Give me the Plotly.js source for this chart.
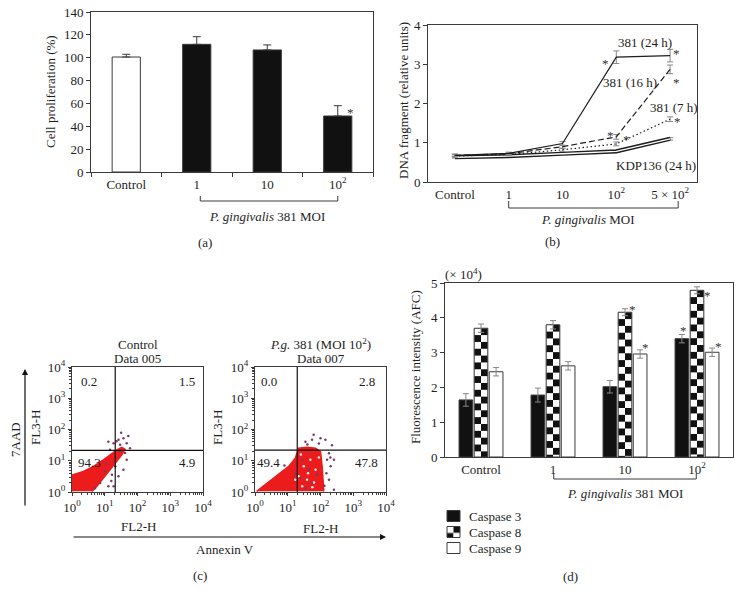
<!DOCTYPE html>
<html>
<head>
<meta charset="utf-8">
<script src="https://cdn.plot.ly/plotly-3.0.1.min.js"></script>
<style>
  html, body { margin: 0; padding: 0; background: #fff; }
  #plot { width: 741px; height: 602px; }
</style>
</head>
<body>
<div id="plot"></div>
<script>
// (a) cell proliferation vs MOI
var moiA = ['Control', '1', '10', '10<sup>2</sup>'];
var prolif = [100.6, 111.7, 106.8, 49];
var prolifErr = [2.4, 6.7, 4.4, 9];

// (b) DNA fragmentation, relative units
var moiB = ['Control', '1', '10', '10<sup>2</sup>', '5 × 10<sup>2</sup>'];
var dna24 = [0.68, 0.73, 0.98, 3.18, 3.22];
var dna24Err = [0.03, 0.03, 0.05, 0.16, 0.16];
var dna16 = [0.68, 0.72, 0.9, 1.15, 2.87];
var dna16Err = [0.03, 0.03, 0.04, 0.06, 0.11];
var dna7 = [0.66, 0.7, 0.82, 0.97, 1.6];
var dna7Err = [0.03, 0.03, 0.04, 0.05, 0.06];
var dnaKdp = [0.63, 0.66, 0.72, 0.78, 1.1];
var dnaKdpErr = [0.02, 0.02, 0.02, 0.02, 0.03];

// (c) flow cytometry, log10 decades (FL2-H, FL3-H)
var gateCtrl = [1.32, 1.33];
var gatePg = [1.29, 1.34];
var quadCtrl = ['0.2', '1.5', '94.3', '4.9'];
var quadPg = ['0.0', '2.8', '49.4', '47.8'];
var ctrlCloudX = [0.02, 0.02, 0.35, 0.66, 0.96, 1.16, 1.37, 1.52, 1.62, 1.52, 1.37, 1.16, 0.96, 0.76, 0.61];
var ctrlCloudY = [0.02, 0.55, 0.66, 0.82, 1.03, 1.19, 1.35, 1.43, 1.37, 1.19, 0.98, 0.71, 0.45, 0.18, 0.02];
var ctrlDotX = [1.42, 1.57, 1.72, 1.67, 1.47, 1.77, 1.27, 1.11, 1.16, 1.32, 1.22, 1.42, 1.11, 1.57, 1.67, 1.01, 0.86, 1.27, 1.5, 1.62, 1.36, 1.45, 1.2, 0.7, 1.05];
var ctrlDotY = [1.67, 1.72, 1.79, 1.56, 1.51, 1.40, 1.56, 1.61, 1.35, 0.82, 0.55, 0.50, 0.18, 0.71, 1.03, 0.66, 0.29, 0.18, 1.9, 1.25, 1.62, 1.3, 0.35, 0.12, 0.9];
var pgCloudX = [0.05, 0.31, 0.72, 1.03, 1.23, 1.33, 1.59, 1.85, 2.0, 2.05, 2.1];
var pgCloudY = [0.02, 0.23, 0.55, 0.82, 1.08, 1.4, 1.43, 1.4, 1.29, 0.82, 0.02];
var pgDotX = [2.15, 2.0, 1.74, 1.54, 2.26, 2.31, 2.26, 2.41, 2.2, 1.44, 1.64, 1.38, 1.74, 1.9, 1.54, 1.23, 2.41, 1.79, 2.35, 2.12, 1.95, 2.18, 1.6, 2.3, 0.9];
var pgDotY = [1.67, 1.72, 1.67, 1.61, 1.24, 0.82, 0.39, 0.07, 1.03, 1.03, 0.71, 0.45, 0.29, 0.55, 0.13, 0.6, 1.03, 1.83, 1.5, 0.2, 1.55, 0.6, 1.52, 1.1, 0.85];
var pgSpeckX = [1.49, 1.33, 1.69, 1.59, 1.85, 1.44, 1.23, 1.75, 1.95, 1.4, 1.62, 1.8];
var pgSpeckY = [0.82, 0.5, 1.03, 0.39, 0.71, 0.18, 0.39, 0.15, 1.1, 1.2, 0.6, 0.3];

// (d) caspase activity (x 10^4 AFC)
var moiD = ['Control', '1', '10', '10<sup>2</sup>'];
var caspNames = ['Caspase 3', 'Caspase 8', 'Caspase 9'];
var casp3 = [1.64, 1.78, 2.02, 3.4];
var casp3Err = [0.18, 0.2, 0.18, 0.12];
var casp8 = [3.7, 3.8, 4.16, 4.79];
var casp8Err = [0.12, 0.12, 0.1, 0.1];
var casp9 = [2.45, 2.62, 2.96, 3.01];
var casp9Err = [0.12, 0.12, 0.12, 0.12];

var W = 741, H = 602;
var AX = '#3a3a3a';
var INK = '#1e1e1e';
var CHECK = 'rgb(1, 2, 3)';   // placeholder colour, swapped for a checkerboard after drawing
var caspFill = ['#111', CHECK, 'white'];
function px(x) { return x / W; }
function py(y) { return 1 - y / H; }

var minorLog = [];
for (var n = 0; n < 4; n++) for (var k = 2; k < 10; k++) minorLog.push(n + Math.log10(k));
var decadeText = ['10<sup>0</sup>', '10<sup>1</sup>', '10<sup>2</sup>', '10<sup>3</sup>', '10<sup>4</sup>'];

function boxAxis(extra) {
  return Object.assign({
    showline: true, mirror: true, linecolor: AX, linewidth: 1,
    showgrid: false, zeroline: false, ticks: '', tickcolor: AX,
    tickfont: {size: 13, color: INK}, fixedrange: true
  }, extra);
}
function logAxis(extra) {
  return boxAxis(Object.assign({
    range: [0, 4], tickmode: 'array', tickvals: [0, 1, 2, 3, 4], ticktext: decadeText,
    ticks: 'outside', ticklen: 3,
    minor: {tickmode: 'array', tickvals: minorLog, ticks: 'outside', ticklen: 2, tickcolor: AX, showgrid: false}
  }, extra));
}

var traces = [];

// (a)
traces.push({
  type: 'bar', x: moiA, y: prolif, xaxis: 'x', yaxis: 'y', width: 0.4,
  marker: {color: ['white', '#111', '#111', '#111'], line: {color: AX, width: 1}},
  error_y: {type: 'data', symmetric: false, array: prolifErr, arrayminus: [0, 0, 0, 0], color: AX, thickness: 1, width: 4}
});

// (b)
function dnaLine(y, err, dash, width, color, withErr) {
  var t = {
    type: 'scatter', mode: 'lines', x: moiB, y: y, xaxis: 'x2', yaxis: 'y2',
    line: {color: color, width: width, dash: dash}
  };
  if (withErr) t.error_y = {type: 'data', array: err, color: '#888', thickness: 1, width: 3};
  return t;
}
traces.push(dnaLine(dnaKdp, dnaKdpErr, 'solid', 4.2, INK, true));
traces.push(dnaLine(dnaKdp, dnaKdpErr, 'solid', 1.4, 'white', false));
traces.push(dnaLine(dna7, dna7Err, '1.5px,2.5px', 1.2, INK, true));
traces.push(dnaLine(dna16, dna16Err, '6px,3px', 1.2, INK, true));
traces.push(dnaLine(dna24, dna24Err, 'solid', 1.2, INK, true));

// (c)
function cloud(x, y, xa, ya) {
  return {type: 'scatter', mode: 'lines', x: x, y: y, xaxis: xa, yaxis: ya, fill: 'toself',
    fillcolor: '#ec1c1c', line: {color: '#ec1c1c', width: 1.5}};
}
function dots(x, y, xa, ya, color, size) {
  return {type: 'scatter', mode: 'markers', x: x, y: y, xaxis: xa, yaxis: ya,
    marker: {color: color, size: size}};
}
traces.push(cloud(ctrlCloudX, ctrlCloudY, 'x3', 'y3'));
traces.push(dots(ctrlDotX, ctrlDotY, 'x3', 'y3', '#7a3a6c', 2.5));
traces.push(cloud(pgCloudX, pgCloudY, 'x4', 'y4'));
traces.push(dots(pgSpeckX, pgSpeckY, 'x4', 'y4', '#f6f0f0', 2.5));
traces.push(dots(pgDotX, pgDotY, 'x4', 'y4', '#7a3a6c', 2.5));

// (d)
var caspVals = [casp3, casp8, casp9];
var caspErrs = [casp3Err, casp8Err, casp9Err];
var caspOffset = [-0.305, -0.095, 0.115];
caspNames.forEach(function (name, j) {
  traces.push({
    type: 'bar', name: name, x: moiD, y: caspVals[j], xaxis: 'x5', yaxis: 'y5',
    width: 0.19, offset: caspOffset[j],
    marker: {color: caspFill[j], line: {color: AX, width: 1}},
    error_y: {type: 'data', array: caspErrs[j], color: '#888', thickness: 1, width: 3}
  });
});
traces.forEach(function (t) { t.showlegend = false; });

// significance marks: which point, and where the star sits next to it
var stars = [
  {xr: 'x', yr: 'y', i: 3, v: prolif[3], dx: 12.5, dy: 4},
  {xr: 'x2', yr: 'y2', i: 3, v: dna24[3], dx: -10.6, dy: -6.8},
  {xr: 'x2', yr: 'y2', i: 4, v: dna24[4], dx: 6, dy: 2.6},
  {xr: 'x2', yr: 'y2', i: 4, v: dna16[4], dx: 6, dy: -13.6},
  {xr: 'x2', yr: 'y2', i: 3, v: dna16[3], dx: -5.6, dy: 0.9},
  {xr: 'x2', yr: 'y2', i: 3, v: dna7[3], dx: 10.4, dy: 4.9},
  {xr: 'x2', yr: 'y2', i: 4, v: dna7[4], dx: 7, dy: -1.8},
  {xr: 'x5', yr: 'y5', i: 2, v: casp8[2], dx: 7, dy: 2.4},
  {xr: 'x5', yr: 'y5', i: 2, v: casp9[2], dx: 20, dy: 6.1},
  {xr: 'x5', yr: 'y5', i: 3, v: casp3[3], dx: -14, dy: 7.9},
  {xr: 'x5', yr: 'y5', i: 3, v: casp8[3], dx: 10, dy: -5.5},
  {xr: 'x5', yr: 'y5', i: 3, v: casp9[3], dx: 21, dy: 5.4}
];

var ann = [];
function note(text, x, y, extra) {
  ann.push(Object.assign({text: text, x: x, y: y, xref: 'paper', yref: 'paper',
    showarrow: false, xanchor: 'center', yanchor: 'middle'}, extra || {}));
}
stars.forEach(function (s) {
  ann.push({text: '*', xref: s.xr, yref: s.yr, x: s.i, y: s.v, xshift: s.dx, yshift: s.dy,
    showarrow: false, font: {size: 13, color: '#333'}});
});

// axis titles and panel labels
note('Cell proliferation (%)', px(50), py(92), {textangle: -90});
note('<i>P. gingivalis</i> 381 MOI', 2, py(217), {xref: 'x'});
note('(a)', px(205), py(242));

note('DNA fragment (relative units)', px(403), py(101), {textangle: -90});
note('<i>P. gingivalis</i> MOI', px(588), py(220));
note('(b)', px(552), py(241));
note('381 (24 h)', px(645), py(43));
note('381 (16 h)', px(630), py(82));
note('381 (7 h)', px(674), py(107));
note('KDP136 (24 h)', px(656), py(166));

note('Control', 0.5, py(344), {xref: 'x3 domain'});
note('Data 005', 0.5, py(358), {xref: 'x3 domain'});
note('<i>P.g.</i> 381 (MOI 10<sup>2</sup>)', 0.5, py(344), {xref: 'x4 domain'});
note('Data 007', 0.5, py(358), {xref: 'x4 domain'});
note('FL3-H', px(35), py(428), {textangle: -90});
note('FL3-H', px(217), py(428), {textangle: -90});
note('7AAD', px(15), py(440), {textangle: -90});
note('FL2-H', px(138), py(526));
note('FL2-H', px(320), py(528));
note('Annexin V', px(225), py(549));
note('(c)', px(200), py(575));
note('', px(25), py(369), {showarrow: true, ax: 0, ay: 138, arrowhead: 2, arrowsize: 1, arrowwidth: 1.2, arrowcolor: '#111'});
note('', px(386), py(537), {showarrow: true, ax: -314, ay: 0, arrowhead: 2, arrowsize: 1, arrowwidth: 1.2, arrowcolor: '#111'});

var quadPos = [[0.52, 3.55], [3.51, 3.55], [0.52, 0.96], [3.51, 0.96]];
quadPos.forEach(function (p, j) {
  ann.push({text: quadCtrl[j], x: p[0], y: p[1], xref: 'x3', yref: 'y3', showarrow: false});
  ann.push({text: quadPg[j], x: p[0] - 0.1, y: p[1], xref: 'x4', yref: 'y4', showarrow: false});
});

note('Fluorescence intensity (AFC)', px(415), py(367), {textangle: -90});
note('(× 10<sup>4</sup>)', px(463), py(274));
note('<i>P. gingivalis</i> 381 MOI', 2, py(493), {xref: 'x5'});
note('(d)', px(570), py(576));

// brackets under the MOI groups, flow gates, hand-drawn caspase key
var shapes = [];
function bracket(xr, a, b, yLine, yTop) {
  var l = {color: AX, width: 1};
  shapes.push({type: 'line', xref: xr, yref: 'paper', x0: a, x1: b, y0: py(yLine), y1: py(yLine), line: l});
  shapes.push({type: 'line', xref: xr, yref: 'paper', x0: a, x1: a, y0: py(yLine), y1: py(yTop), line: l});
  shapes.push({type: 'line', xref: xr, yref: 'paper', x0: b, x1: b, y0: py(yLine), y1: py(yTop), line: l});
}
bracket('x', 1.05, 3, 201, 196);
bracket('x2', 1, 4.15, 208, 201);
bracket('x5', 1.01, 2.99, 479, 473);

function gate(xr, yr, g) {
  shapes.push({type: 'line', xref: xr, yref: yr, x0: g[0], x1: g[0], y0: 0, y1: 4, line: {color: '#111', width: 1.2}});
  shapes.push({type: 'line', xref: xr, yref: yr, x0: 0, x1: 4, y0: g[1], y1: g[1], line: {color: '#111', width: 1.2}});
}
gate('x3', 'y3', gateCtrl);
gate('x4', 'y4', gatePg);

caspNames.forEach(function (name, j) {
  var yc = 516 + 16 * j;
  shapes.push({type: 'rect', xref: 'paper', yref: 'paper', x0: px(447), x1: px(460),
    y0: py(yc + 5.5), y1: py(yc - 5.5), fillcolor: caspFill[j], line: {color: AX, width: 1}});
  note(name, px(467), py(yc), {xanchor: 'left'});
});

var layout = {
  width: W, height: H, autosize: false,
  margin: {l: 0, r: 0, t: 0, b: 0},
  paper_bgcolor: 'white', plot_bgcolor: 'white',
  font: {family: 'Liberation Serif, DejaVu Serif, serif', size: 13, color: INK},
  barmode: 'overlay', hovermode: false, showlegend: false,
  xaxis: boxAxis({domain: [px(91), px(373)], anchor: 'y', type: 'category', range: [-0.5, 3.5],
    ticks: 'outside', ticklen: 4, tickson: 'boundaries'}),
  yaxis: boxAxis({domain: [py(172), py(12)], anchor: 'x', range: [0, 140], dtick: 20, ticks: 'outside', ticklen: 4}),
  xaxis2: boxAxis({domain: [px(428), px(697)], anchor: 'y2', type: 'category', range: [-0.5, 4.5]}),
  yaxis2: boxAxis({domain: [py(182), py(25)], anchor: 'x2', range: [0, 4], dtick: 1, ticks: 'outside', ticklen: 4}),
  xaxis3: logAxis({domain: [px(72), px(203)], anchor: 'y3'}),
  yaxis3: logAxis({domain: [py(492), py(367)], anchor: 'x3'}),
  xaxis4: logAxis({domain: [px(255), px(386)], anchor: 'y4'}),
  yaxis4: logAxis({domain: [py(492), py(367)], anchor: 'x4'}),
  xaxis5: boxAxis({domain: [px(445), px(733)], anchor: 'y5', type: 'category', range: [-0.5, 3.5]}),
  yaxis5: boxAxis({domain: [py(457), py(283)], anchor: 'x5', range: [0, 5], dtick: 1, ticks: 'outside', ticklen: 4}),
  annotations: ann,
  shapes: shapes
};

Plotly.newPlot('plot', traces, layout, {displayModeBar: false}).then(function (gd) {
  // Plotly has no checkerboard pattern: give each caspase 8 mark its own one
  var ns = 'http://www.w3.org/2000/svg';
  var svg = gd.querySelector('.main-svg');
  var defs = document.createElementNS(ns, 'defs');
  svg.insertBefore(defs, svg.firstChild);
  var count = 0;
  gd.querySelectorAll('path').forEach(function (p) {
    if (p.style.fill !== CHECK) return;
    var b = p.getBBox();
    var s = b.width / 2;
    var pat = document.createElementNS(ns, 'pattern');
    var id = 'chk' + (count++);
    pat.setAttribute('id', id);
    pat.setAttribute('patternUnits', 'userSpaceOnUse');
    pat.setAttribute('x', b.x); pat.setAttribute('y', b.y);
    pat.setAttribute('width', 2 * s); pat.setAttribute('height', 2 * s);
    [[0, 0, 'white'], [s, 0, '#111'], [0, s, '#111'], [s, s, 'white']].forEach(function (c) {
      var r = document.createElementNS(ns, 'rect');
      r.setAttribute('x', c[0]); r.setAttribute('y', c[1]);
      r.setAttribute('width', s); r.setAttribute('height', s);
      r.setAttribute('fill', c[2]);
      pat.appendChild(r);
    });
    defs.appendChild(pat);
    p.style.fill = 'url(#' + id + ')';
  });
});
</script>
</body>
</html>
